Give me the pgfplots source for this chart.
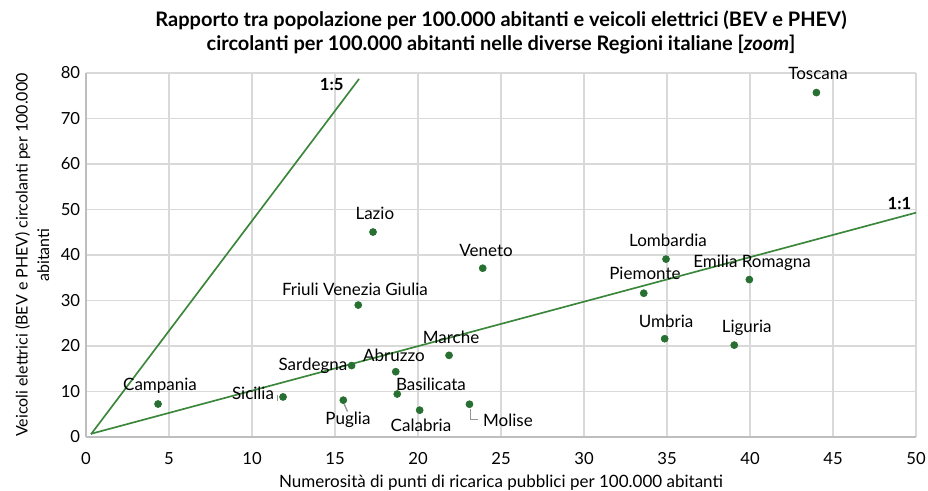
\documentclass[border=0pt]{standalone}
\usepackage{pgfplots}
\pgfplotsset{compat=1.18}
\usepackage{fontspec}
\setmainfont{Lato}
\definecolor{ptgreen}{RGB}{40,112,50}
\definecolor{lngreen}{RGB}{58,134,58}
\definecolor{gridgray}{RGB}{217,217,217}
\definecolor{axgray}{RGB}{190,190,190}
\definecolor{leadgray}{RGB}{150,150,150}

\begin{document}
\begin{tikzpicture}
\begin{axis}[
    scale only axis,
    width=498pt, height=218.4pt,
    xmin=0, xmax=50, ymin=0, ymax=80,
    xtick={0,5,...,50}, ytick={0,10,...,80},
    grid=major,
    grid style={gridgray, line width=0.8pt},
    axis x line*=bottom, axis y line*=left,
    axis line style={axgray, line width=0.8pt, -},
    major tick length=0pt,
    /pgf/number format/assume math mode=true,
    tick label style={font=\fontsize{10}{12}\selectfont},
    xticklabel style={yshift=-6pt},
    xlabel={Numerosità di punti di ricarica pubblici per 100.000 abitanti},
    ylabel={Veicoli elettrici (BEV e PHEV) circolanti per 100.000\\abitanti},
    ylabel style={align=center, font=\fontsize{9.6}{13}\selectfont, yshift=0pt},
    xlabel style={font=\fontsize{10.2}{12}\selectfont, yshift=1pt},
    title={Rapporto tra popolazione per 100.000 abitanti e veicoli elettrici (BEV e PHEV)\\circolanti per 100.000 abitanti nelle diverse Regioni italiane [\textit{zoom}]},
    title style={align=center, font=\bfseries\fontsize{12}{14.4}\selectfont, yshift=2pt},
    clip=false,
]
\coordinate (bbsw) at (rel axis cs:0,0);
\coordinate (bbne) at (rel axis cs:1,1);
% reference lines
\addplot[lngreen, line width=1pt] coordinates {(0.3,0.6) (16.45,78.7)};
\addplot[lngreen, line width=1pt] coordinates {(0.3,0.7) (50,49.3)};
\node[font=\bfseries\fontsize{10}{12}\selectfont] at (axis cs:14.8,77.4) {1:5};
\node[font=\bfseries\fontsize{10}{12}\selectfont] at (axis cs:49.0,51.4) {1:1};

% leader lines
\draw[leadgray, line width=0.8pt] (axis cs:11.55,8.0) -- (axis cs:11.55,9.3);
\draw[leadgray, line width=0.8pt] (axis cs:15.55,7.3) -- (axis cs:15.75,5.6);
\draw[leadgray, line width=0.8pt] (axis cs:23.15,6.2) -- (axis cs:23.15,3.8) -- (axis cs:23.6,3.8);

\addplot[only marks, mark=*, mark size=2.1pt, ptgreen] coordinates {
 (4.34,7.25) (11.87,8.8) (15.5,8.1) (16.0,15.7) (18.66,14.35)
 (18.75,9.45) (20.1,5.9) (23.1,7.2) (21.87,17.95) (23.9,37.1)
 (34.94,39.1) (33.6,31.6) (39.96,34.6) (34.86,21.6) (39.05,20.2)
 (44.0,75.7) (17.29,45.05) (16.4,29.0)
};

\begin{scope}[every node/.style={font=\fontsize{10.2}{12}\selectfont}]
\node at (axis cs:4.46,11.2) {Campania};
\node at (axis cs:10.06,9.7) {Sicilia};
\node at (axis cs:15.78,3.7) {Puglia};
\node at (axis cs:13.67,15.6) {Sardegna};
\node at (axis cs:18.55,18.0) {Abruzzo};
\node at (axis cs:20.78,11.6) {Basilicata};
\node at (axis cs:20.18,2.6) {Calabria};
\node at (axis cs:25.42,3.7) {Molise};
\node at (axis cs:21.99,22.0) {Marche};
\node at (axis cs:24.1,40.9) {Veneto};
\node at (axis cs:16.2,32.5) {Friuli Venezia Giulia};
\node at (axis cs:17.4,49.2) {Lazio};
\node at (axis cs:35.06,43.3) {Lombardia};
\node at (axis cs:33.67,36.0) {Piemonte};
\node at (axis cs:40.12,38.2) {Emilia Romagna};
\node at (axis cs:34.94,25.5) {Umbria};
\node at (axis cs:39.8,24.0) {Liguria};
\node at (axis cs:44.1,79.8) {Toscana};
\end{scope}
\end{axis}
\pgfresetboundingbox
\path[use as bounding box] (bbsw) ++(-51.6pt,-31.8pt) rectangle ([shift={(7.2pt,43.8pt)}]bbne);
\end{tikzpicture}
\end{document}
